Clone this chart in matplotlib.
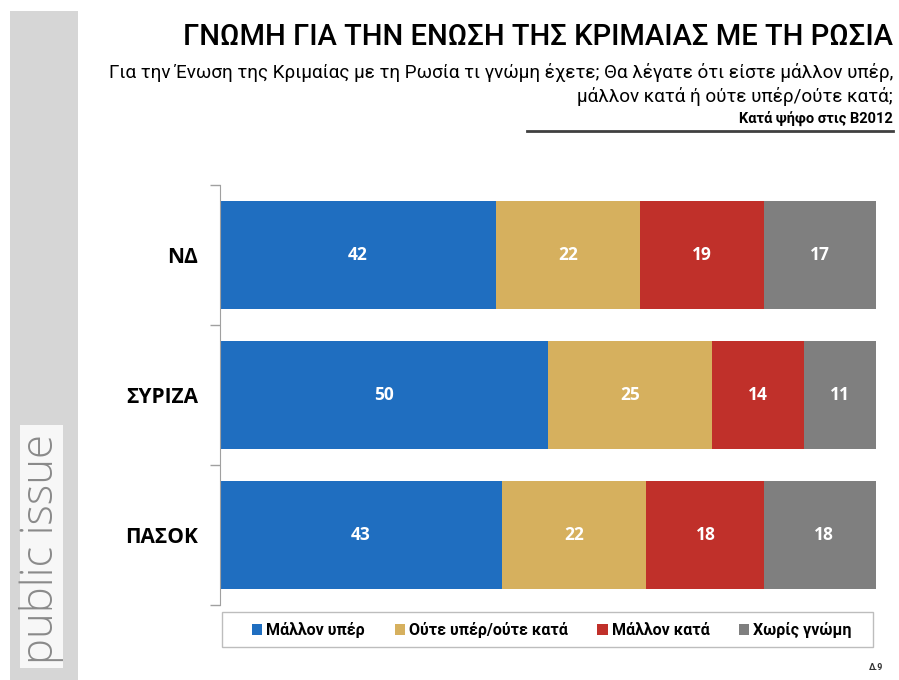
import matplotlib.pyplot as plt
from matplotlib.patches import Rectangle
import numpy as np

parties = ['ΝΔ', 'ΣΥΡΙΖΑ', 'ΠΑΣΟΚ']
series = ['Μάλλον υπέρ', 'Ούτε υπέρ/ούτε κατά', 'Μάλλον κατά', 'Χωρίς γνώμη']
for_vals = [42, 50, 43]
neutral_vals = [22, 25, 22]
against_vals = [19, 14, 18]
noopinion_vals = [17, 11, 18]
colors = ['#1F6EC0', '#D6B05E', '#C0302A', '#7F7F7F']

NARROW = ['Roboto', 'DejaVu Sans']
W, H = 899, 680

fig = plt.figure(figsize=(W / 100, H / 100), dpi=100)
fig.patch.set_facecolor('white')

# left brand band
fig.patches.append(Rectangle((10 / W, 0), 68 / W, (H - 11) / H, transform=fig.transFigure,
                             facecolor='#D6D6D6', edgecolor='none', zorder=0))
fig.patches.append(Rectangle((20 / W, 12 / H), 43 / W, 243 / H, transform=fig.transFigure,
                             facecolor='#F7F7F7', edgecolor='none', zorder=1))
fig.text(42 / W, 131 / H, 'public issue', rotation=90, ha='center', va='center',
         fontsize=31.5, color='#8A8A8A', family=['Open Sans', 'DejaVu Sans'], fontweight='light')

# titles
fig.text(893 / W, 1 - 37 / H, 'ΓΝΩΜΗ ΓΙΑ ΤΗΝ ΕΝΩΣΗ ΤΗΣ ΚΡΙΜΑΙΑΣ ΜΕ ΤΗ ΡΩΣΙΑ', ha='right', va='center',
         fontsize=21, family=NARROW, fontweight='medium', color='black')
fig.text(893 / W, 1 - 72 / H,
         'Για την Ένωση της Κριμαίας με τη Ρωσία τι γνώμη έχετε; Θα λέγατε ότι είστε μάλλον υπέρ,',
         ha='right', va='center', fontsize=13.6, family=NARROW)
fig.text(893 / W, 1 - 97 / H, 'μάλλον κατά ή ούτε υπέρ/ούτε κατά;',
         ha='right', va='center', fontsize=13.6, family=NARROW)
fig.text(893 / W, 1 - 118 / H, 'Κατά ψήφο στις Β2012', ha='right', va='center',
         fontsize=10.5, family=NARROW, fontweight='bold')
fig.add_artist(plt.Line2D([527 / W, 893 / W], [1 - 131 / H, 1 - 131 / H], transform=fig.transFigure,
                          color='#404040', linewidth=2))

# chart
ax = fig.add_axes([220 / W, 1 - 605 / H, 656 / W, 420 / H])
y = np.arange(len(parties))
data = [for_vals, neutral_vals, against_vals, noopinion_vals]
left = np.zeros(len(parties))
for vals, name, col in zip(data, series, colors):
    bars = ax.barh(y, vals, left=left, height=0.77, color=col, label=name)
    for b, v in zip(bars, vals):
        ax.text(b.get_x() + b.get_width() / 2, b.get_y() + b.get_height() / 2, str(v),
                ha='center', va='center', color='white', fontsize=12.5, fontweight='bold',
                family=['Open Sans', 'DejaVu Sans'])
    left += np.array(vals)

ax.set_xlim(0, 100)
ax.set_ylim(2.5, -0.5)
ax.set_yticks(y)
ax.set_yticklabels(parties, fontsize=15, fontweight='bold', family=['Open Sans', 'DejaVu Sans'])
ax.tick_params(axis='y', which='major', length=0, pad=16)
ax.set_yticks([-0.5, 0.5, 1.5, 2.5], minor=True)
ax.tick_params(axis='y', which='minor', length=7, color='#A0A0A0', width=1)
ax.set_xticks([])
for s in ['top', 'right', 'bottom']:
    ax.spines[s].set_visible(False)
ax.spines['left'].set_color('#A0A0A0')

# legend
fig.patches.append(Rectangle((222 / W, 1 - 647 / H), 651 / W, 35 / H, transform=fig.transFigure,
                             facecolor='white', edgecolor='#BDBDBD', linewidth=1))
handles, labels = ax.get_legend_handles_labels()
fig.legend(handles, labels, loc='center', bbox_to_anchor=(552 / W, 1 - 630 / H), ncol=4,
           frameon=False, handlelength=0.65, handleheight=0.65, handletextpad=0.25,
           columnspacing=1.85, prop={'family': NARROW, 'size': 11.5, 'weight': 'bold'})

fig.text(876 / W, 1 - 668 / H, 'Δ.9', ha='center', va='center', fontsize=6.5,
         fontweight='bold', family=NARROW, color='#333333')

fig.savefig('out.png', dpi=100)
